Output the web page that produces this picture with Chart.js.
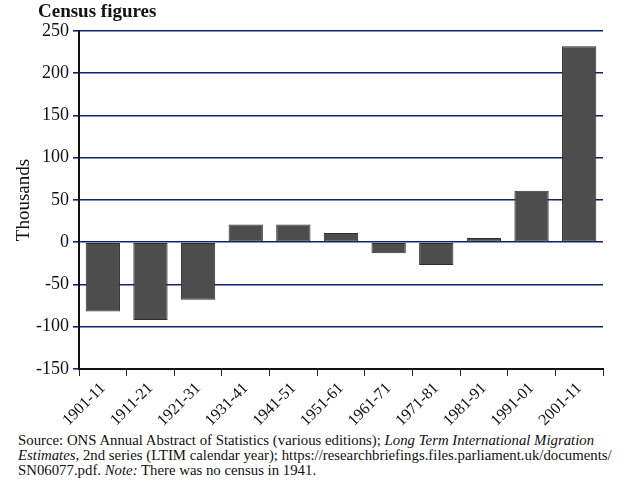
<!DOCTYPE html>
<html>
<head>
<meta charset="utf-8">
<script src="https://cdn.jsdelivr.net/npm/chart.js@4.4.1/dist/chart.umd.min.js"></script>
<style>
  body { margin: 0; background: #fff; font-family: "Liberation Serif", "DejaVu Serif", serif; }
  #wrap { position: relative; width: 629px; height: 492px; }
  #title { position: absolute; left: 38px; top: 0px; font-size: 19px; font-weight: bold; color: #111; }
  #chartBox { position: absolute; left: 0; top: 0; width: 629px; height: 430px; }
  #source { position: absolute; left: 18px; top: 433px; width: 611px; font-size: 14.8px; line-height: 15px; color: #111; white-space: nowrap; }
</style>
</head>
<body>
<div id="wrap">
  <div id="chartBox"><canvas id="censusChart"></canvas></div>
  <div id="title">Census figures</div>
  <div id="source">Source: ONS Annual Abstract of Statistics (various editions); <i>Long Term International Migration</i><br><i>Estimates</i>, 2nd series (LTIM calendar year); https://researchbriefings.files.parliament.uk/documents/<br>SN06077.pdf. <i>Note:</i> There was no census in 1941.</div>
</div>
<script>
// decades and net migration (thousands)
var decades = ["1901-11", "1911-21", "1921-31", "1931-41", "1941-51", "1951-61", "1961-71", "1971-81", "1981-91", "1991-01", "2001-11"];
var netMigration = [-82, -92, -68, 21, 21, 11, -13, -27, 5, 61, 232];
var yTicks = [-150, -100, -50, 0, 50, 100, 150, 200, 250];

var gridBlue = "#0b2470";
var ctx = document.getElementById("censusChart").getContext("2d");

new Chart(ctx, {
  type: "bar",
  data: {
    labels: decades,
    datasets: [{
      label: "Thousands",
      data: netMigration,
      backgroundColor: "#4d4d4d",
      borderColor: "#2e2e2e",
      borderWidth: 1,
      borderSkipped: false,
      barPercentage: 0.72,
      categoryPercentage: 1.0
    }]
  },
  options: {
    responsive: true,
    maintainAspectRatio: false,
    animation: false,
    layout: { padding: { top: 31, right: 26, left: 0, bottom: 0 } },
    plugins: {
      legend: { display: false },
      tooltip: { enabled: false }
    },
    scales: {
      x: {
        grid: { offset: true, drawOnChartArea: false, drawTicks: true, tickLength: 7, color: "#222", lineWidth: 1 },
        border: { display: true, color: "#111", width: 2 },
        ticks: {
          minRotation: 45, maxRotation: 45, padding: 3,
          color: "#111",
          font: { family: "Liberation Serif", size: 16 }
        },
        afterFit: function (scale) { scale.height = 61; }
      },
      y: {
        min: -150, max: 250,
        afterBuildTicks: function (scale) {
          scale.ticks = yTicks.map(function (v) { return { value: v }; });
        },
        grid: { color: gridBlue, lineWidth: 1.6, tickLength: 6, tickColor: gridBlue },
        border: { display: true, color: "#111", width: 2 },
        ticks: {
          padding: 4,
          color: "#111",
          font: { family: "Liberation Serif", size: 18 }
        },
        title: {
          display: true, text: "Thousands", color: "#111",
          font: { family: "Liberation Serif", size: 19 },
          padding: { top: 13, bottom: 0 }
        },
        afterFit: function (scale) { scale.width = 79; }
      }
    }
  }
});
</script>
</body>
</html>
